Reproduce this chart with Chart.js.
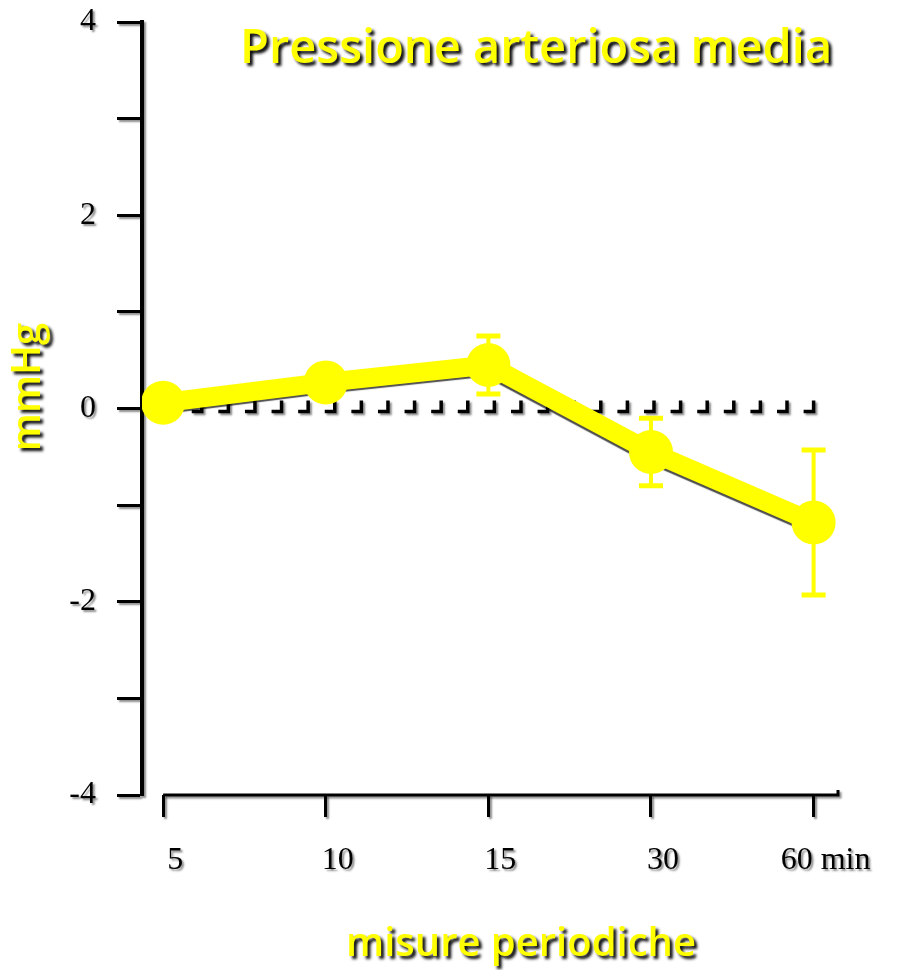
<!DOCTYPE html>
<html>
<head>
<meta charset="utf-8">
<script src="https://cdn.jsdelivr.net/npm/chart.js@4/dist/chart.umd.min.js"></script>
<style>
  html, body { margin: 0; padding: 0; background: #ffffff; }
  #wrap { width: 904px; height: 970px; position: relative; }
</style>
</head>
<body>
<div id="wrap"><canvas id="c" width="904" height="970"></canvas></div>
<script>
// ---- data ----
const chartTitle = 'Pressione arteriosa media';
const xAxisTitle = 'misure periodiche';
const yAxisTitle = 'mmHg';
const categories = ['5', '10', '15', '30', '60 min'];
const meanChange = [0.06, 0.27, 0.45, -0.45, -1.18];
const semChange = [0, 0, 0.30, 0.35, 0.75];
const yLabelledTicks = [-4, -2, 0, 2, 4];

const YELLOW = '#ffff00';

function clearShadow(ctx) {
  ctx.shadowColor = 'rgba(0,0,0,0)';
  ctx.shadowBlur = 0;
  ctx.shadowOffsetX = 0;
  ctx.shadowOffsetY = 0;
}

const decor = {
  id: 'decor',
  beforeDraw(chart) {
    const ctx = chart.ctx;
    ctx.shadowColor = 'rgba(0,0,0,0.45)';
    ctx.shadowBlur = 2;
    ctx.shadowOffsetX = 2;
    ctx.shadowOffsetY = 2;
  },
  beforeDatasetsDraw(chart) {
    const ctx = chart.ctx;
    const xs = chart.scales.x, ys = chart.scales.y;
    const area = chart.chartArea;
    // detached x axis line
    ctx.save();
    ctx.strokeStyle = '#000';
    ctx.lineWidth = 3;
    ctx.beginPath();
    ctx.moveTo(xs.getPixelForValue(0), area.bottom);
    ctx.lineTo(area.right, area.bottom);
    ctx.lineTo(area.right, area.bottom - 5);
    ctx.stroke();
    // zero reference line (dashed)
    const zy = ys.getPixelForValue(0);
    const start = xs.getPixelForValue(0) + 12;
    const end = xs.getPixelForValue(categories.length - 1);
    const n = 25;
    const step = (end - start) / (n - 1);
    ctx.lineWidth = 3.5;
    for (let k = 0; k < n; k++) {
      const px = start + k * step;
      ctx.beginPath();
      ctx.moveTo(px - 10, zy + 3);
      ctx.lineTo(px, zy + 3);
      ctx.lineTo(px, zy - 8);
      ctx.stroke();
    }
    ctx.restore();
    clearShadow(ctx);
  },
  beforeDatasetDraw(chart, args) {
    const ctx = chart.ctx;
    if (args.index === 1) {
      ctx.shadowColor = 'rgba(0,0,0,0.7)';
      ctx.shadowBlur = 1;
      ctx.shadowOffsetX = -1;
      ctx.shadowOffsetY = 2;
    } else {
      clearShadow(ctx);
    }
  },
  afterDatasetDraw(chart) {
    clearShadow(chart.ctx);
  },
  afterDatasetsDraw(chart) {
    const ctx = chart.ctx;
    const xs = chart.scales.x, ys = chart.scales.y;
    clearShadow(ctx);
    ctx.save();
    ctx.strokeStyle = YELLOW;
    meanChange.forEach((m, i) => {
      const s = semChange[i];
      if (!s) return;
      const px = xs.getPixelForValue(i);
      const top = ys.getPixelForValue(m + s);
      const bot = ys.getPixelForValue(m - s);
      ctx.lineWidth = 4;
      ctx.beginPath();
      ctx.moveTo(px, top);
      ctx.lineTo(px, bot);
      ctx.stroke();
      ctx.lineWidth = 5;
      ctx.beginPath();
      ctx.moveTo(px - 12, top); ctx.lineTo(px + 12, top);
      ctx.moveTo(px - 12, bot); ctx.lineTo(px + 12, bot);
      ctx.stroke();
    });
    ctx.restore();
  },
  afterDraw(chart) {
    const ctx = chart.ctx;
    ctx.save();
    ctx.shadowColor = 'rgba(0,0,0,0.95)';
    ctx.shadowBlur = 3;
    ctx.shadowOffsetX = 3;
    ctx.shadowOffsetY = 3;
    ctx.fillStyle = YELLOW;
    // main title
    ctx.font = '600 47px "Open Sans"';
    ctx.textAlign = 'left';
    ctx.textBaseline = 'alphabetic';
    ctx.fillText(chartTitle, 240, 63);
    // x axis title
    ctx.font = '600 40px "Open Sans"';
    ctx.textAlign = 'center';
    ctx.fillText(xAxisTitle, 521, 956);
    // y axis title
    ctx.save();
    ctx.translate(40, 387);
    ctx.rotate(-Math.PI / 2);
    ctx.font = '600 40px "Open Sans"';
    ctx.textAlign = 'center';
    ctx.textBaseline = 'alphabetic';
    ctx.fillText(yAxisTitle, 0, 0);
    ctx.restore();
    ctx.restore();
  }
};

const points = meanChange.map((v, i) => ({ x: i, y: v }));

new Chart(document.getElementById('c'), {
  type: 'line',
  data: {
    datasets: [
      {
        label: 'punti',
        data: points,
        showLine: false,
        pointRadius: 22,
        pointHoverRadius: 22,
        pointBackgroundColor: YELLOW,
        pointBorderWidth: 0,
        order: 1
      },
      {
        label: 'linea',
        data: points,
        borderColor: YELLOW,
        borderWidth: 19,
        pointRadius: 0,
        tension: 0,
        fill: false,
        order: 2
      }
    ]
  },
  options: {
    responsive: false,
    devicePixelRatio: 1,
    animation: false,
    events: [],
    layout: { padding: { top: 18, right: 66, left: 0, bottom: 0 } },
    plugins: {
      legend: { display: false },
      title: { display: false },
      tooltip: { enabled: false }
    },
    scales: {
      x: {
        type: 'linear',
        position: 'bottom',
        min: -0.13,
        max: 4.15,
        afterBuildTicks: (scale) => {
          scale.ticks = categories.map((_, i) => ({ value: i }));
        },
        afterFit: (scale) => {
          scale.height = 175;
          scale.paddingLeft = 0;
          scale.paddingRight = 0;
        },
        ticks: {
          autoSkip: false,
          maxRotation: 0,
          minRotation: 0,
          callback: (v) => categories[v] !== undefined ? categories[v] : '',
          color: '#000',
          font: { family: '"Liberation Serif", "DejaVu Serif", serif', size: 32 },
          padding: 24,
          labelOffset: 12
        },
        grid: {
          drawOnChartArea: false,
          drawTicks: true,
          tickLength: 22,
          tickWidth: 3,
          tickColor: '#000'
        },
        border: { display: false }
      },
      y: {
        min: -4,
        max: 4,
        afterFit: (scale) => {
          scale.width = 142;
          scale.paddingTop = 0;
          scale.paddingBottom = 0;
        },
        ticks: {
          stepSize: 1,
          callback: (v) => yLabelledTicks.includes(v) ? String(v) : '',
          color: '#000',
          font: { family: '"Liberation Serif", "DejaVu Serif", serif', size: 32 },
          padding: 21
        },
        grid: {
          drawOnChartArea: false,
          drawTicks: true,
          tickLength: 25,
          tickWidth: 3,
          tickColor: '#000'
        },
        border: { display: true, color: '#000', width: 4 }
      }
    }
  },
  plugins: [decor]
});
</script>
</body>
</html>
